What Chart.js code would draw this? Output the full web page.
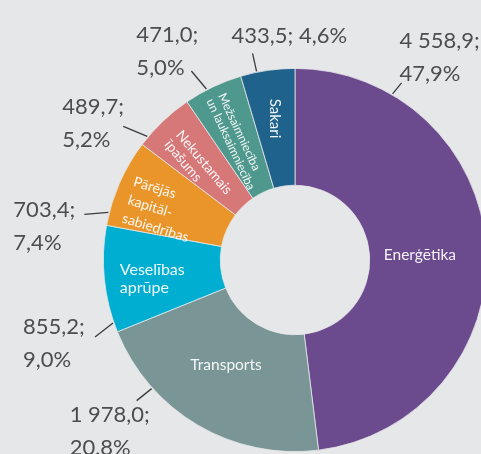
<!DOCTYPE html>
<html>
<head>
<meta charset="utf-8">
<script src="https://cdn.jsdelivr.net/npm/chart.js@4.4.1/dist/chart.umd.min.js"></script>
<style>
  html, body { margin: 0; padding: 0; background: #e6e7e9; overflow: hidden; }
  #wrap { width: 481px; height: 454px; overflow: hidden; position: relative; }
  canvas { position: absolute; left: 0; top: 0; }
</style>
</head>
<body>
<div id="wrap"><canvas id="pie" width="590" height="520"></canvas></div>
<script>
// data
const categories = ["Enerģētika", "Transports", "Veselības aprūpe", "Pārējās kapitālsabiedrības", "Nekustamais īpašums", "Mežsaimniecība un lauksaimniecība", "Sakari"];
const values = [4558.9, 1978.0, 855.2, 703.4, 489.7, 471.0, 433.5];
const shares = [47.9, 20.8, 9.0, 7.4, 5.2, 5.0, 4.6];
const innerLines = [["Enerģētika"], ["Transports"], ["Veselības", "aprūpe"], ["Pārējās", "kapitāl-", "sabiedrības"], ["Nekustamais", "īpašums"], ["Mežsaimniecība", "un lauksaimniecība"], ["Sakari"]];

// styles
const colors = ["#6c4a8e", "#799596", "#00aed1", "#ea952a", "#d67778", "#4f988e", "#1f628b"];
const innerStyle = [
  { r: 125, da: 1.3, rot: 0, size: 15.5, lh: 18, align: "center" },
  { r: 126, da: 2.7, rot: 0, size: 15.5, lh: 18, align: "center" },
  { r: 144, da: -1.8, rot: 0, size: 16, lh: 18, align: "left" },
  { r: 143, da: -3.2, rot: 17, size: 14, lh: 19, align: "left" },
  { r: 134, da: -2.6, rot: 50, size: 14, lh: 15, align: "left" },
  { r: 132, da: -0.9, rot: 65, size: 12, lh: 13, align: "left" },
  { r: 143, da: 0, rot: 90, size: 15, lh: 18, align: "center" }
];
// leader start as fraction of slice, leader vector, text offset from leader end
const outerStyle = [
  { t: 0.176, lx: 9, ly: -11, tx: -2, ty: -35 },
  { t: 0.735, lx: -15, ly: 12, tx: -67, ty: 21 },
  { t: 0.09, lx: -18, ly: 14, tx: -72, ty: -3 },
  { t: 0.145, lx: -24, ly: 2, tx: -71, ty: 3 },
  { t: 0.15, lx: -24, ly: -10, tx: -61, ty: -12 },
  { t: 0.387, lx: -15, ly: -18, tx: -55, ty: -29 },
  { t: 0.30, lx: -4, ly: -18, tx: -21, ty: -10, oneLine: true }
];

function fmt(v) {
  const parts = v.toFixed(1).split(".");
  const int = parts[0].replace(/\B(?=(\d{3})+(?!\d))/g, " ");
  return int + "," + parts[1];
}

const labelsPlugin = {
  id: "sliceLabels",
  afterDatasetsDraw(chart) {
    const ctx = chart.ctx;
    const arcs = chart.getDatasetMeta(0).data;
    arcs.forEach((arc, i) => {
      const p = arc.getProps(["x", "y", "startAngle", "endAngle", "innerRadius", "outerRadius"], true);

      // text inside slice
      const s = innerStyle[i];
      const mid = (p.startAngle + p.endAngle) / 2 + s.da * Math.PI / 180;
      const cx = p.x + s.r * Math.cos(mid);
      const cy = p.y + s.r * Math.sin(mid);
      ctx.save();
      ctx.translate(cx, cy);
      ctx.rotate(s.rot * Math.PI / 180);
      ctx.font = s.size + "px Lato";
      ctx.fillStyle = "rgba(255,255,255,0.93)";
      ctx.textBaseline = "middle";
      const lines = innerLines[i];
      const maxW = Math.max(...lines.map(l => ctx.measureText(l).width));
      lines.forEach((l, k) => {
        const y = (k - (lines.length - 1) / 2) * s.lh;
        if (s.align === "left") {
          ctx.textAlign = "left";
          ctx.fillText(l, -maxW / 2, y);
        } else {
          ctx.textAlign = "center";
          ctx.fillText(l, 0, y);
        }
      });
      ctx.restore();

      // value label outside with leader line
      const o = outerStyle[i];
      const a = p.startAngle + (p.endAngle - p.startAngle) * o.t;
      const sx = p.x + (p.outerRadius + 1) * Math.cos(a);
      const sy = p.y + (p.outerRadius + 1) * Math.sin(a);
      const ex = sx + o.lx;
      const ey = sy + o.ly;
      ctx.save();
      ctx.strokeStyle = "#3c3c3e";
      ctx.lineWidth = 1.3;
      ctx.beginPath();
      ctx.moveTo(sx, sy);
      ctx.lineTo(ex, ey);
      ctx.stroke();
      ctx.font = "22px Lato";
      ctx.fillStyle = "#4d4d50";
      ctx.textAlign = "left";
      ctx.textBaseline = "alphabetic";
      const v = fmt(values[i]) + ";";
      const sh = shares[i].toFixed(1).replace(".", ",") + "%";
      if (o.oneLine) {
        ctx.fillText(v + " " + sh, ex + o.tx, ey + o.ty);
      } else {
        ctx.fillText(v, ex + o.tx, ey + o.ty);
        ctx.fillText(sh, ex + o.tx, ey + o.ty + 33);
      }
      ctx.restore();
    });
  }
};

const pieChart = new Chart(document.getElementById("pie"), {
  type: "doughnut",
  data: {
    labels: categories,
    datasets: [{
      data: values,
      backgroundColor: colors,
      borderColor: "#e6e7e9",
      borderWidth: 0.8,
      hoverOffset: 0
    }]
  },
  options: {
    responsive: false,
    animation: false,
    devicePixelRatio: 1,
    cutout: "39%",
    layout: { padding: { left: 103, right: 103, top: 68, bottom: 68 } },
    plugins: {
      legend: { display: false },
      tooltip: { enabled: false }
    },
    events: []
  },
  plugins: [labelsPlugin]
});
</script>
</body>
</html>
